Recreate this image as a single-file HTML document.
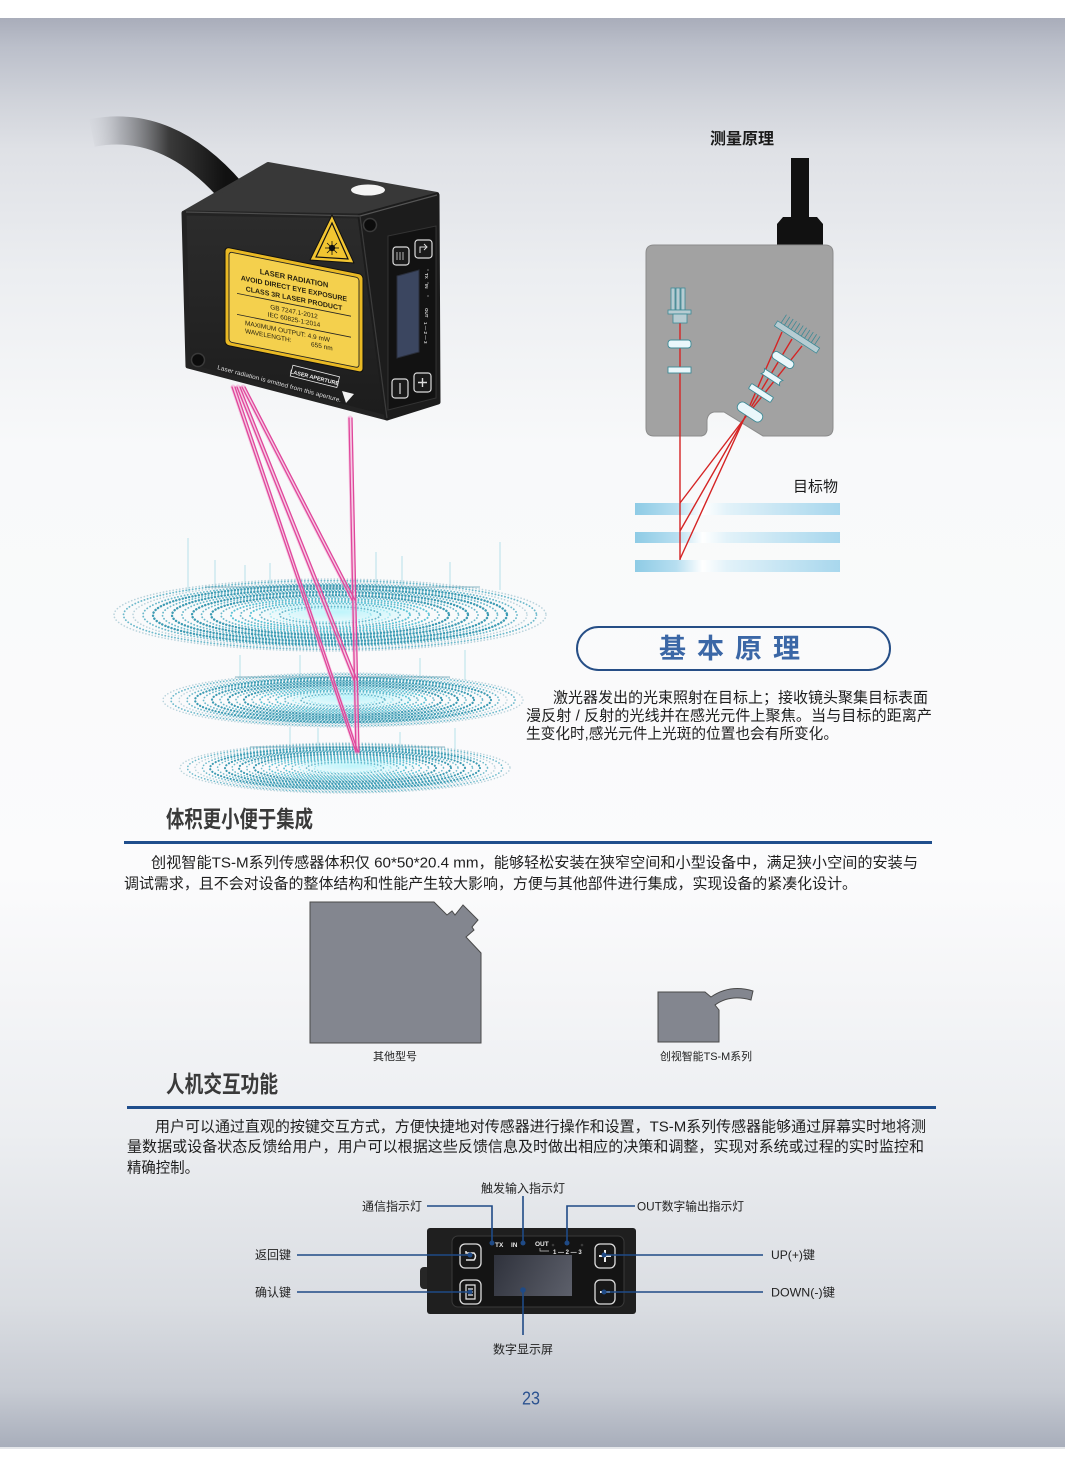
<!DOCTYPE html>
<html><head><meta charset="utf-8">
<style>
html,body{margin:0;padding:0;width:1065px;height:1473px;overflow:hidden;background:#fff}
svg{display:block}
text{font-family:"Liberation Sans","Noto Sans CJK SC",sans-serif}
</style></head><body>
<svg width="1065" height="1473" viewBox="0 0 1065 1473" xmlns="http://www.w3.org/2000/svg">
<defs>
 <linearGradient id="bg" x1="0" y1="18" x2="0" y2="1447" gradientUnits="userSpaceOnUse">
  <stop offset="0" stop-color="#a9adba"/>
  <stop offset="0.02" stop-color="#bbbfca"/>
  <stop offset="0.058" stop-color="#d0d3da"/>
  <stop offset="0.092" stop-color="#dfe1e6"/>
  <stop offset="0.18" stop-color="#eceef1"/>
  <stop offset="0.3" stop-color="#f8f9fa"/>
  <stop offset="0.6" stop-color="#fbfbfc"/>
  <stop offset="0.78" stop-color="#eceef1"/>
  <stop offset="0.9" stop-color="#dadde2"/>
  <stop offset="0.96" stop-color="#c7cbd3"/>
  <stop offset="1" stop-color="#a8aebb"/>
 </linearGradient>
 <linearGradient id="cable" x1="85" y1="0" x2="225" y2="0" gradientUnits="userSpaceOnUse">
  <stop offset="0" stop-color="#d0d2d8" stop-opacity="0"/>
  <stop offset="0.25" stop-color="#9a9ca2" stop-opacity="0.7"/>
  <stop offset="0.6" stop-color="#3a3a3a"/>
  <stop offset="1" stop-color="#111"/>
 </linearGradient>
 <linearGradient id="front" x1="0" y1="212" x2="0" y2="418" gradientUnits="userSpaceOnUse">
  <stop offset="0" stop-color="#2c2c2c"/>
  <stop offset="1" stop-color="#1c1c1c"/>
 </linearGradient>
 <linearGradient id="bar" x1="635" y1="0" x2="840" y2="0" gradientUnits="userSpaceOnUse">
  <stop offset="0" stop-color="#8ecbe5"/>
  <stop offset="0.2" stop-color="#b6def0"/>
  <stop offset="0.33" stop-color="#ffffff"/>
  <stop offset="0.45" stop-color="#e2f2f9"/>
  <stop offset="1" stop-color="#a8d7ed"/>
 </linearGradient>
 <linearGradient id="scr" x1="494" y1="1255" x2="572" y2="1296" gradientUnits="userSpaceOnUse">
  <stop offset="0" stop-color="#2f323c"/>
  <stop offset="1" stop-color="#5d606b"/>
 </linearGradient>
 <radialGradient id="glow" cx="0.5" cy="0.5" r="0.5">
  <stop offset="0" stop-color="#b8f4fb" stop-opacity="0.9"/>
  <stop offset="1" stop-color="#b8f4fb" stop-opacity="0"/>
 </radialGradient>
</defs>

<!-- background -->
<rect x="0" y="0" width="1065" height="1473" fill="#ffffff"/>
<rect x="0" y="18" width="1065" height="1429" fill="url(#bg)"/>
<rect x="0" y="1447" width="1065" height="2" fill="#e4e6ea"/>

<!-- ========== discs ========== -->
<g stroke="#a7dbe6" stroke-width="1" opacity="0.8">
 <line x1="188" y1="538" x2="188" y2="592"/><line x1="215" y1="560" x2="215" y2="592"/>
 <line x1="245" y1="565" x2="245" y2="592"/><line x1="270" y1="563" x2="270" y2="590"/>
 <line x1="376" y1="552" x2="376" y2="588"/><line x1="402" y1="556" x2="402" y2="588"/>
 <line x1="450" y1="562" x2="450" y2="590"/><line x1="500" y1="542" x2="500" y2="590"/>
 <line x1="240" y1="655" x2="240" y2="680"/><line x1="300" y1="655" x2="300" y2="680"/>
 <line x1="420" y1="658" x2="420" y2="680"/><line x1="465" y1="650" x2="465" y2="680"/>
 <line x1="290" y1="727" x2="290" y2="750"/><line x1="318" y1="728" x2="318" y2="750"/>
 <line x1="400" y1="732" x2="400" y2="752"/><line x1="455" y1="728" x2="455" y2="750"/>
</g>
<ellipse cx="340" cy="612" rx="90" ry="14" fill="url(#glow)"/>
<ellipse cx="350" cy="698" rx="80" ry="11" fill="url(#glow)"/>
<ellipse cx="352" cy="766" rx="70" ry="10" fill="url(#glow)"/>
<g fill="none" stroke-linecap="round" stroke-dasharray="0.1 3.2">
 <!-- top disc -->
 <g stroke="#b9d3dc" stroke-width="1.6">
  <ellipse cx="330" cy="615" rx="216" ry="36"/><ellipse cx="330" cy="615" rx="197" ry="32.8"/>
 </g>
 <g stroke="#3d9bb3" stroke-width="2.4">
  <ellipse cx="330" cy="615" rx="177" ry="29.5"/><ellipse cx="330" cy="615" rx="158" ry="26.3"/>
  <ellipse cx="330" cy="615" rx="138" ry="23"/><ellipse cx="330" cy="615" rx="119" ry="19.8"/>
 </g>
 <g stroke="#5cc3d6" stroke-width="2">
  <ellipse cx="330" cy="615" rx="99" ry="16.6"/><ellipse cx="330" cy="615" rx="80" ry="13.3"/>
 </g>
 <g stroke="#9ee6f0" stroke-width="1.6">
  <ellipse cx="330" cy="615" rx="60" ry="10"/><ellipse cx="330" cy="615" rx="41" ry="6.8"/>
 </g>
 <g stroke="#4aa9c0" stroke-width="1.8" opacity="0.8">
  <ellipse cx="330" cy="615" rx="206.5" ry="34.4"/><ellipse cx="330" cy="615" rx="187" ry="31.1"/>
  <ellipse cx="330" cy="615" rx="167.5" ry="27.9"/><ellipse cx="330" cy="615" rx="148" ry="24.6"/>
  <ellipse cx="330" cy="615" rx="128.5" ry="21.4"/><ellipse cx="330" cy="615" rx="109" ry="18.2"/>
  <ellipse cx="330" cy="615" rx="89.5" ry="15"/><ellipse cx="330" cy="615" rx="70" ry="11.6"/>
  <ellipse cx="330" cy="615" rx="50.5" ry="8.4"/>
 </g>
 <!-- middle disc -->
 <g stroke="#b9d3dc" stroke-width="1.5">
  <ellipse cx="343" cy="700" rx="180" ry="27"/><ellipse cx="343" cy="700" rx="164" ry="24.6"/>
 </g>
 <g stroke="#3d9bb3" stroke-width="2.2">
  <ellipse cx="343" cy="700" rx="148" ry="22.1"/><ellipse cx="343" cy="700" rx="131" ry="19.7"/>
  <ellipse cx="343" cy="700" rx="115" ry="17.3"/><ellipse cx="343" cy="700" rx="99" ry="14.9"/>
 </g>
 <g stroke="#5cc3d6" stroke-width="1.9">
  <ellipse cx="343" cy="700" rx="83" ry="12.4"/><ellipse cx="343" cy="700" rx="67" ry="10"/>
 </g>
 <g stroke="#9ee6f0" stroke-width="1.5">
  <ellipse cx="343" cy="700" rx="50" ry="7.6"/><ellipse cx="343" cy="700" rx="34" ry="5.1"/>
 </g>
 <g stroke="#4aa9c0" stroke-width="1.7" opacity="0.8">
  <ellipse cx="343" cy="700" rx="172" ry="25.8"/><ellipse cx="343" cy="700" rx="156" ry="23.3"/>
  <ellipse cx="343" cy="700" rx="139.5" ry="20.9"/><ellipse cx="343" cy="700" rx="123" ry="18.5"/>
  <ellipse cx="343" cy="700" rx="107" ry="16.1"/><ellipse cx="343" cy="700" rx="91" ry="13.6"/>
  <ellipse cx="343" cy="700" rx="75" ry="11.2"/><ellipse cx="343" cy="700" rx="58.5" ry="8.8"/>
  <ellipse cx="343" cy="700" rx="42" ry="6.3"/>
 </g>
 <!-- bottom disc -->
 <g stroke="#b9d3dc" stroke-width="1.5">
  <ellipse cx="345" cy="768" rx="165" ry="25"/><ellipse cx="345" cy="768" rx="150" ry="22.8"/>
 </g>
 <g stroke="#3d9bb3" stroke-width="2.1">
  <ellipse cx="345" cy="768" rx="135" ry="20.5"/><ellipse cx="345" cy="768" rx="120" ry="18.3"/>
  <ellipse cx="345" cy="768" rx="106" ry="16"/><ellipse cx="345" cy="768" rx="91" ry="13.8"/>
 </g>
 <g stroke="#5cc3d6" stroke-width="1.8">
  <ellipse cx="345" cy="768" rx="76" ry="11.5"/><ellipse cx="345" cy="768" rx="61" ry="9.3"/>
 </g>
 <g stroke="#9ee6f0" stroke-width="1.5">
  <ellipse cx="345" cy="768" rx="46" ry="7"/><ellipse cx="345" cy="768" rx="31" ry="4.8"/>
 </g>
 <g stroke="#4aa9c0" stroke-width="1.6" opacity="0.8">
  <ellipse cx="345" cy="768" rx="157.5" ry="23.9"/><ellipse cx="345" cy="768" rx="142.5" ry="21.6"/>
  <ellipse cx="345" cy="768" rx="127.5" ry="19.4"/><ellipse cx="345" cy="768" rx="113" ry="17.1"/>
  <ellipse cx="345" cy="768" rx="98.5" ry="14.9"/><ellipse cx="345" cy="768" rx="83.5" ry="12.6"/>
  <ellipse cx="345" cy="768" rx="68.5" ry="10.4"/><ellipse cx="345" cy="768" rx="53.5" ry="8.1"/>
  <ellipse cx="345" cy="768" rx="38.5" ry="5.9"/>
 </g>
</g>
<g stroke="#4a8fa5" stroke-width="1.2" opacity="0.5">
 <line x1="205" y1="587" x2="480" y2="587"/>
 <line x1="235" y1="677" x2="450" y2="677"/>
 <line x1="250" y1="747" x2="445" y2="747"/>
</g>

<!-- ========== laser beams ========== -->
<g fill="none" stroke-linecap="round">
 <g stroke="#f4a6d3" stroke-width="5" opacity="0.55">
  <line x1="233" y1="387" x2="357" y2="752"/>
  <line x1="238" y1="387" x2="355" y2="680"/>
  <line x1="243" y1="387" x2="353" y2="600"/>
  <line x1="350" y1="418" x2="357" y2="752"/>
 </g>
 <g stroke="#e0479b" stroke-width="1.3">
  <line x1="232" y1="387" x2="356" y2="752"/><line x1="235" y1="387" x2="358" y2="752"/>
  <line x1="237" y1="387" x2="354" y2="680"/><line x1="240" y1="387" x2="357" y2="680"/>
  <line x1="242" y1="387" x2="352" y2="600"/><line x1="245" y1="387" x2="355" y2="600"/>
  <line x1="349" y1="418" x2="356" y2="752"/><line x1="352" y1="418" x2="359" y2="752"/>
 </g>
</g>

<!-- ========== sensor ========== -->
<path d="M92,133 Q168,118 232,192" stroke="url(#cable)" stroke-width="28" fill="none"/>
<g stroke-linejoin="round">
 <polygon points="185,212 268,164 437,194 360,216" fill="#383838" stroke="#383838" stroke-width="4"/>
 <polygon points="184,213 360,216 387,418 188,366" fill="url(#front)" stroke="#232323" stroke-width="5"/>
 <polygon points="360,216 437,195 438,402 387,418" fill="#1c1c1c" stroke="#1c1c1c" stroke-width="5"/>
</g>
<line x1="186" y1="212" x2="360" y2="216" stroke="#4d4d4d" stroke-width="1.2"/>
<line x1="360" y1="216" x2="437" y2="195" stroke="#555" stroke-width="1.2"/>
<line x1="360" y1="216" x2="387" y2="418" stroke="#3c3c3c" stroke-width="1.2"/>
<ellipse cx="368" cy="190" rx="17" ry="5.5" fill="#f4f4f4"/>
<circle cx="370" cy="225" r="6.5" fill="#0c0c0c" stroke="#3a3a3a" stroke-width="1.5"/>
<circle cx="198" cy="360" r="6.5" fill="#0c0c0c" stroke="#3a3a3a" stroke-width="1.5"/>

<!-- warning triangle -->
<polygon points="332,215 310,260 354,263" fill="#f2c531" stroke="#111" stroke-width="1" stroke-linejoin="round"/>
<polygon points="332,223 316,257 348,259" fill="none" stroke="#111" stroke-width="1.2"/>
<circle cx="332" cy="248" r="3.2" fill="#111"/>
<g stroke="#111" stroke-width="0.8">
 <line x1="332" y1="241" x2="332" y2="255"/><line x1="325" y1="248" x2="339" y2="248"/>
 <line x1="327" y1="243" x2="337" y2="253"/><line x1="337" y1="243" x2="327" y2="253"/>
</g>

<!-- yellow label -->
<g transform="matrix(1,0.2,0,1,225,247)">
 <rect x="0" y="0" width="138" height="98" rx="4" fill="#e9b924" stroke="#111" stroke-width="1"/>
 <rect x="4" y="4" width="130" height="90" rx="3" fill="#f4d04d" stroke="#222" stroke-width="0.9"/>
 <g fill="#2a2410" text-anchor="middle" font-weight="bold">
  <text x="69" y="20" font-size="7.5">LASER RADIATION</text>
  <text x="69" y="30" font-size="7">AVOID DIRECT EYE EXPOSURE</text>
  <text x="69" y="40" font-size="7">CLASS 3R LASER PRODUCT</text>
 </g>
 <line x1="12" y1="44" x2="126" y2="44" stroke="#222" stroke-width="0.8"/>
 <g fill="#2a2410" text-anchor="middle">
  <text x="69" y="53" font-size="6.5">GB 7247.1-2012</text>
  <text x="69" y="61" font-size="6.5">IEC 60825-1:2014</text>
 </g>
 <line x1="12" y1="65" x2="126" y2="65" stroke="#222" stroke-width="0.8"/>
 <g fill="#2a2410">
  <text x="20" y="74" font-size="6.5">MAXIMUM OUTPUT: 4.9 mW</text>
  <text x="20" y="82" font-size="6.5">WAVELENGTH:</text>
  <text x="86" y="82" font-size="6.5">655 nm</text>
 </g>
</g>

<text transform="translate(217,369) rotate(15)" font-size="6" fill="#dddddd" textLength="128" lengthAdjust="spacingAndGlyphs">Laser radiation is emitted from this aperture.</text>
<g transform="translate(291,373) rotate(14)">
 <rect x="0" y="-8" width="48" height="11" fill="none" stroke="#e8e8e8" stroke-width="0.8"/>
 <text x="24" y="0.5" font-size="5.5" fill="#eeeeee" text-anchor="middle" font-weight="bold">LASER APERTURE</text>
</g>
<polygon points="342,391 354,394 346,403" fill="#f2f2f2"/>

<!-- side face details -->
<polygon points="388,236 436,226 436,398 388,410" fill="#121212" stroke="#333" stroke-width="1"/>
<rect x="393" y="247" width="16" height="18" rx="3" fill="#1a1a1a" stroke="#dcdcdc" stroke-width="1.2"/>
<g stroke="#dcdcdc" stroke-width="0.8"><line x1="397" y1="252" x2="397" y2="260"/><line x1="400" y1="252" x2="400" y2="260"/><line x1="403" y1="252" x2="403" y2="260"/></g>
<rect x="415" y="240" width="17" height="18" rx="3" fill="#1a1a1a" stroke="#dcdcdc" stroke-width="1.2"/>
<path d="M420,253 V247 H427 M424,244 L427,247 L424,250" stroke="#dcdcdc" stroke-width="1" fill="none"/>
<polygon points="397,276 419,270 419,352 397,358" fill="#3b4660" stroke="#2a2f3c" stroke-width="1"/>
<rect x="392" y="379" width="16" height="19" rx="3" fill="#1a1a1a" stroke="#dcdcdc" stroke-width="1.2"/>
<line x1="400" y1="383" x2="400" y2="394" stroke="#dcdcdc" stroke-width="1.2"/>
<rect x="414" y="373" width="17" height="19" rx="3" fill="#1a1a1a" stroke="#dcdcdc" stroke-width="1.2"/>
<path d="M422.5,378 V387 M418,382.5 H427" stroke="#dcdcdc" stroke-width="1.4"/>
<g fill="#cfcfcf" font-size="4.5" font-weight="bold">
 <text transform="translate(425,273) rotate(90)">TX</text>
 <text transform="translate(425,284) rotate(90)">IN</text>
 <text transform="translate(425,308) rotate(90)">OUT</text>
 <text transform="translate(424,322) rotate(90)">1 — 2 — 3</text>
</g>
<g fill="#555"><circle cx="428" cy="270" r="1"/><circle cx="428" cy="283" r="1"/><circle cx="428" cy="296" r="1"/></g>

<!-- ========== measurement principle ========== -->
<text x="710" y="144" font-size="16" font-weight="bold" fill="#1a1a1a" textLength="64" lengthAdjust="spacingAndGlyphs">测量原理</text>
<rect x="791" y="158" width="18" height="62" fill="#111"/>
<path d="M777,224 L783,217 L817,217 L823,224 L823,248 L777,248 Z" fill="#111"/>
<path d="M654,245 H825 Q833,245 833,253 V428 Q833,436 825,436 H763 L724,412 H714 Q708,413 707,420 V430 Q706,436 700,436 H654 Q646,436 646,428 V253 Q646,245 654,245 Z" fill="#a2a2a2" stroke="#8c8c8c" stroke-width="1"/>

<rect x="635" y="503" width="205" height="12" fill="url(#bar)"/>
<rect x="635" y="532" width="205" height="11" fill="url(#bar)"/>
<rect x="635" y="560" width="205" height="12" fill="url(#bar)"/>

<g stroke="#d52424" stroke-width="1.4" fill="none">
 <line x1="680" y1="323" x2="680" y2="560"/>
 <line x1="744" y1="419" x2="680" y2="503"/>
 <line x1="744" y1="419" x2="680" y2="531"/>
 <line x1="744" y1="419" x2="680" y2="559"/>
 <line x1="744" y1="419" x2="782" y2="332"/>
 <line x1="744" y1="419" x2="792" y2="339"/>
 <line x1="744" y1="419" x2="802" y2="346"/>
</g>

<g stroke="#3d8a96" stroke-width="0.8" fill="#b7ccd2">
 <rect x="671" y="288" width="4" height="22"/><rect x="676" y="288" width="4" height="22"/><rect x="681" y="288" width="4" height="22"/>
 <rect x="668" y="310" width="23" height="4"/>
 <rect x="673" y="314" width="14" height="9"/>
</g>
<g stroke="#3d8a96" stroke-width="0.9" fill="#eaf7fb">
 <rect x="668" y="340" width="23" height="8" rx="3"/>
 <rect x="668" y="367" width="23" height="6"/>
 <rect x="-14" y="-5" width="28" height="10" rx="4.5" transform="translate(750,412) rotate(33)"/>
 <rect x="-13" y="-3" width="26" height="6" rx="1" transform="translate(761,393) rotate(33)"/>
 <path d="M-11,-3 H11 Q8,0 11,3 H-11 Q-8,0 -11,-3 Z" transform="translate(772,377) rotate(33)"/>
 <rect x="-12" y="-4" width="24" height="8" rx="3.5" transform="translate(783,360) rotate(33)"/>
</g>
<g transform="translate(797,337) rotate(33)" stroke="#3d8a96" stroke-width="0.8" fill="#b7ccd2">
 <rect x="-25" y="-3" width="50" height="6"/>
 <g fill="none">
  <path d="M-21,-3 V-13 M-17,-3 V-13 M-13,-3 V-13 M-9,-3 V-13 M-5,-3 V-13 M-1,-3 V-13 M3,-3 V-13 M7,-3 V-13 M11,-3 V-13 M15,-3 V-13 M19,-3 V-13"/>
 </g>
</g>
<text x="793" y="491.5" font-size="15" fill="#1a1a1a" textLength="45" lengthAdjust="spacingAndGlyphs">目标物</text>

<!-- title pill -->
<rect x="577" y="627" width="313" height="43" rx="21.5" fill="none" stroke="#264e86" stroke-width="2"/>
<text x="659" y="658" font-size="27" font-weight="bold" fill="#3b67a6" textLength="141" lengthAdjust="spacing">基本原理</text>

<g font-size="15" fill="#1e1e1e">
 <text x="553" y="702.5" textLength="375" lengthAdjust="spacingAndGlyphs">激光器发出的光束照射在目标上；接收镜头聚集目标表面</text>
 <text x="526" y="720.5" textLength="406" lengthAdjust="spacingAndGlyphs">漫反射 / 反射的光线并在感光元件上聚焦。当与目标的距离产</text>
 <text x="526" y="738.5" textLength="312" lengthAdjust="spacingAndGlyphs">生变化时,感光元件上光斑的位置也会有所变化。</text>
</g>

<!-- ========== section 1 ========== -->
<text x="166" y="827" font-size="23" font-weight="bold" fill="#3a3a3a" textLength="147" lengthAdjust="spacingAndGlyphs">体积更小便于集成</text>
<rect x="124" y="841" width="808" height="3" fill="#1f4e8c"/>
<g font-size="15" fill="#1e1e1e">
 <text x="151" y="867.5" textLength="767" lengthAdjust="spacingAndGlyphs">创视智能TS-M系列传感器体积仅 60*50*20.4 mm，能够轻松安装在狭窄空间和小型设备中，满足狭小空间的安装与</text>
 <text x="124" y="888.5" textLength="733" lengthAdjust="spacingAndGlyphs">调试需求，且不会对设备的整体结构和性能产生较大影响，方便与其他部件进行集成，实现设备的紧凑化设计。</text>
</g>
<polygon points="310,902 434,902 447,915 452,911 455,915 463,905 478,920 472,927 474,930 466,937 481,953 481,1043 310,1043" fill="#83868f" stroke="#4a4a4a" stroke-width="1"/>
<path d="M658,992 H705 L711,997 Q730,984 753,991 L751,1000 Q730,994 715,1005 L719,1010 V1042 H658 Z" fill="#83868f" stroke="#4a4a4a" stroke-width="1"/>
<text x="395" y="1060" font-size="11" fill="#222" text-anchor="middle">其他型号</text>
<text x="706" y="1060" font-size="11" fill="#222" text-anchor="middle" textLength="92" lengthAdjust="spacingAndGlyphs">创视智能TS-M系列</text>

<!-- ========== section 2 ========== -->
<text x="166" y="1092" font-size="23" font-weight="bold" fill="#3a3a3a" textLength="112" lengthAdjust="spacingAndGlyphs">人机交互功能</text>
<rect x="127" y="1106" width="809" height="3" fill="#1f4e8c"/>
<g font-size="15" fill="#1e1e1e">
 <text x="155" y="1131.5" textLength="771" lengthAdjust="spacingAndGlyphs">用户可以通过直观的按键交互方式，方便快捷地对传感器进行操作和设置，TS-M系列传感器能够通过屏幕实时地将测</text>
 <text x="127" y="1151.5" textLength="797" lengthAdjust="spacingAndGlyphs">量数据或设备状态反馈给用户，用户可以根据这些反馈信息及时做出相应的决策和调整，实现对系统或过程的实时监控和</text>
 <text x="127" y="1172.5" textLength="72" lengthAdjust="spacingAndGlyphs">精确控制。</text>
</g>

<!-- device -->
<rect x="420" y="1267" width="10" height="22" rx="4" fill="#262626"/>
<rect x="427" y="1228" width="209" height="86" rx="3" fill="#1f1f1f"/>
<rect x="452" y="1236" width="172" height="71" rx="6" fill="#141414" stroke="#3a3a3a" stroke-width="1"/>
<rect x="494" y="1255" width="78" height="41" fill="url(#scr)"/>
<g fill="#181818" stroke="#dedede" stroke-width="1.3">
 <rect x="460" y="1244" width="21" height="24" rx="5"/>
 <rect x="460" y="1280" width="21" height="24" rx="5"/>
 <rect x="595" y="1244" width="20" height="24" rx="5"/>
 <rect x="595" y="1280" width="20" height="24" rx="5"/>
</g>
<path d="M466,1251 V1253 H474 Q477,1256 474,1260 H466" stroke="#e6e6e6" stroke-width="1.5" fill="none"/>
<path d="M466,1285 H475 V1299 H466 Z M468,1289 H473 M468,1292 H473 M468,1295 H473" stroke="#e6e6e6" stroke-width="1.2" fill="none"/>
<path d="M605,1250 V1262 M599,1256 H611" stroke="#f0f0f0" stroke-width="2"/>
<path d="M600,1292 H610" stroke="#f0f0f0" stroke-width="2"/>
<g fill="#e8e8e8" font-size="6.5" font-weight="bold">
 <text x="495" y="1247">TX</text>
 <text x="511" y="1247">IN</text>
 <text x="535" y="1246">OUT</text>
 <text x="553" y="1254" font-size="6">1 — 2 — 3</text>
</g>
<path d="M540,1248 V1251 H549" stroke="#ccc" stroke-width="0.7" fill="none"/>
<g fill="#3a3a3a"><circle cx="553" cy="1245" r="1.3"/><circle cx="582" cy="1245" r="1.3"/></g>

<g stroke="#1f4a86" stroke-width="1.6" fill="none">
 <path d="M427,1206 H492 V1243"/>
 <path d="M523,1196 V1243"/>
 <path d="M635,1206 H567 V1243"/>
 <path d="M297,1255 H470"/>
 <path d="M297,1292 H470"/>
 <path d="M604,1255 H763"/>
 <path d="M604,1292 H763"/>
 <path d="M523,1290 V1335"/>
</g>
<g fill="#1f4a86">
 <circle cx="492" cy="1243" r="2.5"/><circle cx="523" cy="1243" r="2.5"/><circle cx="567" cy="1243" r="2.5"/>
 <circle cx="470" cy="1255" r="2.5"/><circle cx="470" cy="1292" r="2.5"/>
 <circle cx="604" cy="1255" r="2.5"/><circle cx="604" cy="1292" r="2.5"/>
 <circle cx="523" cy="1290" r="2.8"/>
</g>
<g font-size="12" fill="#222">
 <text x="523" y="1192.5" text-anchor="middle">触发输入指示灯</text>
 <text x="422" y="1210.5" text-anchor="end">通信指示灯</text>
 <text x="637" y="1210.5" textLength="107" lengthAdjust="spacingAndGlyphs">OUT数字输出指示灯</text>
 <text x="255" y="1259">返回键</text>
 <text x="255" y="1296.5">确认键</text>
 <text x="771" y="1259" textLength="44" lengthAdjust="spacingAndGlyphs">UP(+)键</text>
 <text x="771" y="1296.5" textLength="64" lengthAdjust="spacingAndGlyphs">DOWN(-)键</text>
 <text x="523" y="1353.5" text-anchor="middle">数字显示屏</text>
</g>

<text x="531" y="1404.5" font-size="18" fill="#2b5290" text-anchor="middle" textLength="18" lengthAdjust="spacingAndGlyphs">23</text>
</svg>
</body></html>
